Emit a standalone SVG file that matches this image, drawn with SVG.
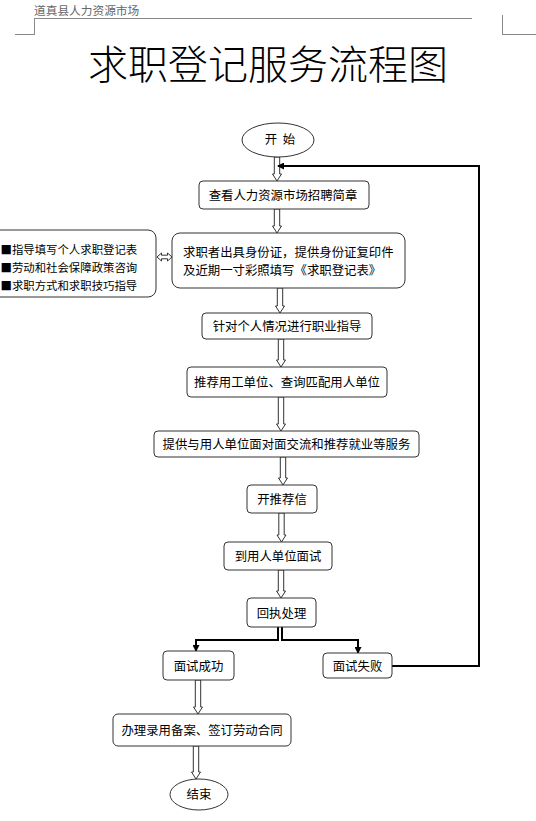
<svg xmlns="http://www.w3.org/2000/svg" width="536" height="821" viewBox="0 0 536 821">
<style>
.box{fill:#fff;stroke:#333;stroke-width:1}
.t{font-family:"Noto Sans CJK SC","Liberation Sans",sans-serif;font-size:12.4px;fill:#000;dominant-baseline:central;text-anchor:middle}
.l{text-anchor:start}
.ha{fill:#fff;stroke:#333;stroke-width:1;stroke-linejoin:miter}
.ln{fill:none;stroke:#000;stroke-width:2}
.hd{fill:none;stroke:#888;stroke-width:1}
</style>
<defs>
<marker id="ah" viewBox="0 0 7 7" refX="6" refY="3.5" markerWidth="7" markerHeight="7" markerUnits="userSpaceOnUse" orient="auto">
<path d="M0,0 L7,3.5 L0,7 z" fill="#000"/>
</marker>
</defs>
<rect width="536" height="821" fill="#fff"/>
<g id="header">
<text x="34" y="9.5" style="font-family:'Noto Sans CJK SC','Liberation Sans',sans-serif;font-size:11.7px;fill:#666;dominant-baseline:central">道真县人力资源市场</text>
<path class="hd" d="M34,18.5 H472"/>
<path class="hd" d="M34.5,18 V35 M15,34.5 H34.5 M502.5,15 V35 M502.5,34.5 H536" stroke="#aaa"/>
</g>
<g id="title">
<text x="88" y="62" style="font-family:'Noto Sans CJK SC','Liberation Serif',serif;font-size:40px;font-weight:300;fill:#000;dominant-baseline:central">求职登记服务流程图</text>
</g>
<g id="connectors">
<path class="ha" d="M274.3,157 V174 H272.5 L277,181 L281.5,174 H279.7 V157 Z"/>
<path class="ha" d="M274.3,209 V226 H272.5 L277,233 L281.5,226 H279.7 V209 Z"/>
<path class="ha" d="M277.3,288 V306 H275.5 L280,313 L284.5,306 H282.7 V288 Z"/>
<path class="ha" d="M278.3,339 V360 H276.5 L281,367 L285.5,360 H283.7 V339 Z"/>
<path class="ha" d="M278.3,397 V424 H276.5 L281,431 L285.5,424 H283.7 V397 Z"/>
<path class="ha" d="M280.3,457 V478 H278.5 L283,485 L287.5,478 H285.7 V457 Z"/>
<path class="ha" d="M278.8,513 V535 H277 L281.5,542 L286,535 H284.2 V513 Z"/>
<path class="ha" d="M278.3,570 V591 H276.5 L281,598 L285.5,591 H283.7 V570 Z"/>
<path class="ha" d="M195.3,680 V707 H193.5 L198,714 L202.5,707 H200.7 V680 Z"/>
<path class="ha" d="M193.3,746 V772 H191.5 L196,779 L200.5,772 H198.7 V746 Z"/>
<path class="ha" d="M157,257 L161.5,253 V255.2 H167.5 V253 L172,257 L167.5,261 V258.8 H161.5 V261 Z"/>
<path class="ln" d="M278,627 V640 H196 V651" marker-end="url(#ah)"/>
<path class="ln" d="M282,627 V640 H358 V653" marker-end="url(#ah)"/>
<path class="ln" d="M392,666 H479 V166 H278" marker-end="url(#ah)"/>
</g>
<g id="start">
<ellipse class="box" cx="278" cy="140" rx="36" ry="17"/>
<text class="t" x="280" y="139" xml:space="preserve">开  始</text>
</g>
<g id="n1">
<rect class="box" x="199" y="181" width="170" height="28" rx="4"/>
<text class="t" x="283" y="195">查看人力资源市场招聘简章</text>
</g>
<g id="side">
<rect class="box" x="-10" y="230" width="166" height="67" rx="8"/>
<text class="t l" x="0.5" y="249" style="font-size:11.4px">■指导填写个人求职登记表</text>
<text class="t l" x="0.5" y="267" style="font-size:11.4px">■劳动和社会保障政策咨询</text>
<text class="t l" x="0.5" y="285" style="font-size:11.4px">■求职方式和求职技巧指导</text>
</g>
<g id="n2">
<rect class="box" x="172" y="233" width="233" height="55" rx="8"/>
<text class="t l" x="183" y="252">求职者出具身份证，提供身份证复印件</text>
<text class="t l" x="183" y="270">及近期一寸彩照填写《求职登记表》</text>
</g>
<g id="n3">
<rect class="box" x="202" y="313" width="170" height="26" rx="4"/>
<text class="t" x="287" y="326">针对个人情况进行职业指导</text>
</g>
<g id="n4">
<rect class="box" x="187" y="367" width="200" height="30" rx="4"/>
<text class="t" x="287" y="382">推荐用工单位、查询匹配用人单位</text>
</g>
<g id="n5">
<rect class="box" x="154" y="431" width="265" height="26" rx="4"/>
<text class="t" x="286.5" y="444">提供与用人单位面对面交流和推荐就业等服务</text>
</g>
<g id="n6">
<rect class="box" x="247" y="485" width="70" height="28" rx="4"/>
<text class="t" x="282" y="499">开推荐信</text>
</g>
<g id="n7">
<rect class="box" x="224" y="542" width="108" height="28" rx="4"/>
<text class="t" x="278" y="556">到用人单位面试</text>
</g>
<g id="n8">
<rect class="box" x="247" y="598" width="69" height="29" rx="4"/>
<text class="t" x="281.5" y="612.5">回执处理</text>
</g>
<g id="n9">
<rect class="box" x="163" y="651" width="71" height="29" rx="4"/>
<text class="t" x="198.5" y="665.5">面试成功</text>
</g>
<g id="n10">
<rect class="box" x="323" y="653" width="69" height="25" rx="4"/>
<text class="t" x="357.5" y="665.5">面试失败</text>
</g>
<g id="n11">
<rect class="box" x="113" y="714" width="178" height="32" rx="5"/>
<text class="t" x="202" y="730">办理录用备案、签订劳动合同</text>
</g>
<g id="end">
<ellipse class="box" cx="199" cy="794.5" rx="29" ry="15.5"/>
<text class="t" x="199" y="794">结束</text>
</g>
</svg>
